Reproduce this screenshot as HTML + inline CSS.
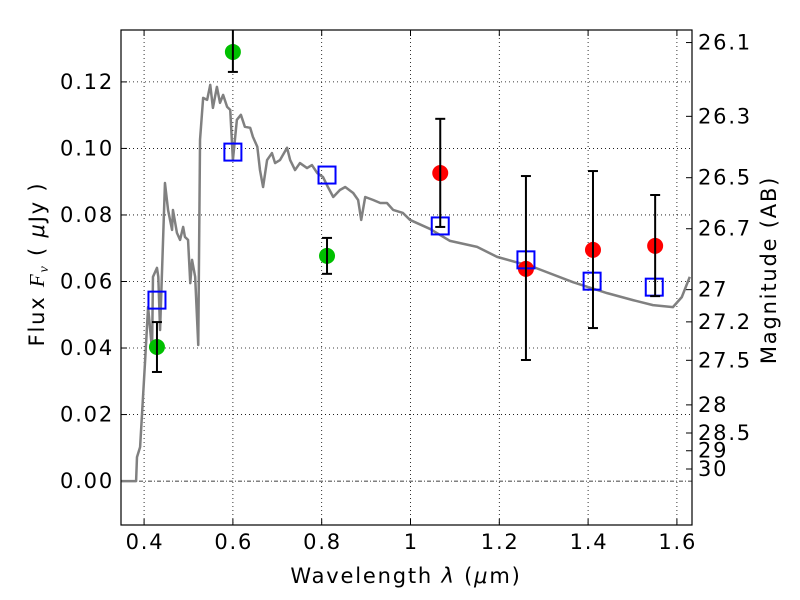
<!DOCTYPE html>
<html><head><meta charset="utf-8"><style>
html,body{margin:0;padding:0;background:#fff;}
svg{display:block;font-family:"DejaVu Sans","Liberation Sans",sans-serif;}
</style></head><body>
<svg id="chart" width="800" height="600"></svg>
<script>
const specWave=[0.346,0.382,0.384,0.391,0.402,0.409,0.418,0.420,0.429,0.432,0.436,0.447,0.454,0.463,0.465,0.474,0.481,0.488,0.492,0.499,0.504,0.508,0.515,0.522,0.526,0.533,0.542,0.549,0.555,0.564,0.571,0.578,0.587,0.594,0.600,0.609,0.618,0.627,0.639,0.645,0.655,0.661,0.668,0.677,0.688,0.695,0.706,0.722,0.729,0.740,0.751,0.767,0.778,0.790,0.803,0.814,0.826,0.841,0.853,0.871,0.882,0.889,0.898,0.916,0.932,0.947,0.961,0.983,0.999,1.044,1.089,1.150,1.195,1.276,1.366,1.443,1.501,1.546,1.591,1.611,1.629];
const specFlux=[0,0,0.0072,0.0102,0.0355,0.0523,0.0394,0.0614,0.0641,0.0614,0.0454,0.0896,0.0815,0.0755,0.0815,0.0746,0.0725,0.0764,0.0734,0.0725,0.0595,0.0665,0.0614,0.0409,0.1026,0.1152,0.1146,0.1191,0.1122,0.1185,0.1137,0.1161,0.1125,0.1116,0.0965,0.1086,0.1101,0.1065,0.1062,0.1035,0.1005,0.0935,0.0884,0.0965,0.0986,0.0956,0.0965,0.1002,0.0965,0.0935,0.0956,0.0941,0.0950,0.0926,0.0914,0.0884,0.0854,0.0875,0.0884,0.0866,0.0845,0.0785,0.0854,0.0845,0.0836,0.0836,0.0815,0.0806,0.0785,0.0758,0.0722,0.0704,0.0674,0.0644,0.0598,0.0565,0.0544,0.0529,0.0523,0.0553,0.0614];
const greenWave=[0.429,0.600,0.812];
const greenFlux=[0.0403,0.129,0.0677];
const greenHi=[0.0478,0.137,0.0731];
const greenLo=[0.0328,0.123,0.0623];
const redWave=[1.067,1.260,1.411,1.551];
const redFlux=[0.0926,0.0638,0.0695,0.0707];
const redHi=[0.1089,0.0917,0.0932,0.0860];
const redLo=[0.0764,0.0364,0.0460,0.0556];
const modelWave=[0.429,0.600,0.812,1.067,1.260,1.409,1.549];
const modelFlux=[0.0544,0.0989,0.0920,0.0767,0.0665,0.0601,0.0583];
const xTicks=[0.4,0.6,0.8,1,1.2,1.4,1.6];
const xTickLabels=["0.4","0.6","0.8","1","1.2","1.4","1.6"];
const yTicks=[0,0.02,0.04,0.06,0.08,0.10,0.12];
const yTickLabels=["0.00","0.02","0.04","0.06","0.08","0.10","0.12"];
const magTicks=[26.1,26.3,26.5,26.7,27,27.2,27.5,28,28.5,29,30];
const magTickLabels=["26.1","26.3","26.5","26.7","27","27.2","27.5","28","28.5","29","30"];

const L=121,R=692,T=30,B=525;
const xmin=0.348,xmax=1.634,ymin=-0.0132,ymax=0.1356;
const X=v=>L+(v-xmin)/(xmax-xmin)*(R-L);
const Y=v=>B-(v-ymin)/(ymax-ymin)*(B-T);
const NS="http://www.w3.org/2000/svg";
const svg=document.getElementById('chart');
function mk(tag,attrs,parent){const e=document.createElementNS(NS,tag);for(const k in attrs)e.setAttribute(k,attrs[k]);(parent||svg).appendChild(e);return e;}
const FS=21, LS=1.8;

const clip=mk('clipPath',{id:'pc'});mk('rect',{x:L,y:T,width:R-L,height:B-T},clip);

xTicks.forEach((v,i)=>{
 const g=mk('line',{x1:X(v),x2:X(v),y1:T,y2:B,stroke:'#000','stroke-width':0.8,'stroke-dasharray':'1,3'});
 
 
 const t=mk('line',{x1:X(v),x2:X(v),y1:B,y2:B-6,stroke:'#000'});
 
 
 mk('line',{x1:X(v),x2:X(v),y1:T,y2:T+6,stroke:'#000'});
 const l=mk('text',{x:X(v)+LS/2,y:B+24,'text-anchor':'middle','font-size':FS,'letter-spacing':LS});
 l.textContent=xTickLabels[i];
 
 
});
yTicks.forEach((v,i)=>{
 const g=mk('line',{x1:L,x2:R,y1:Y(v),y2:Y(v),stroke:'#000','stroke-width':0.8,'stroke-dasharray':v===0?'4,2,1,2':'1,3'});
 
 
 mk('line',{x1:L,x2:L+6,y1:Y(v),y2:Y(v),stroke:'#000'});
 const l=mk('text',{x:L-7,y:Y(v)+7,'text-anchor':'end','font-size':FS,'letter-spacing':LS});
 l.textContent=yTickLabels[i];
 
 
});
magTicks.forEach((m,i)=>{
 const f=Math.pow(10,(23.9-m)/2.5);
 const t=mk('line',{x1:R-6,x2:R,y1:Y(f),y2:Y(f),stroke:'#000'});
 
 
 const l=mk('text',{x:R+6,y:Y(f)+7,'font-size':FS,'letter-spacing':LS});
 l.textContent=magTickLabels[i];
 
 
});

const pg=mk('g',{'clip-path':'url(#pc)'});
const sp=mk('polyline',{points:specWave.map((w,i)=>X(w)+','+Y(specFlux[i])).join(' '),fill:'none',stroke:'#808080','stroke-width':2.5,'stroke-linejoin':'round'},pg);



function errs(w,hi,lo,name){w.forEach((v,i)=>{
 const x=X(v);
 const e=mk('g',{stroke:'#000','stroke-width':2},pg);
 
 
 mk('line',{x1:x,x2:x,y1:Y(hi[i]),y2:Y(lo[i])},e);
 mk('line',{x1:x-5,x2:x+5,y1:Y(hi[i]),y2:Y(hi[i])},e);
 mk('line',{x1:x-5,x2:x+5,y1:Y(lo[i]),y2:Y(lo[i])},e);
});}
greenWave.forEach((w,i)=>{
 const c=mk('circle',{cx:X(w),cy:Y(greenFlux[i]),r:8,fill:'#00c000'},pg);
 
 
});
redWave.forEach((w,i)=>{
 const c=mk('circle',{cx:X(w),cy:Y(redFlux[i]),r:8,fill:'#ff0000'},pg);
 
 
});
modelWave.forEach((w,i)=>{
 const s=mk('rect',{x:X(w)-8.5,y:Y(modelFlux[i])-8.5,width:17,height:17,fill:'none',stroke:'#0000ff','stroke-width':2},pg);
 
 
});
errs(greenWave,greenHi,greenLo,'optical-error-bar');
errs(redWave,redHi,redLo,'ir-error-bar');

const fr=mk('rect',{x:L,y:T,width:R-L,height:B-T,fill:'none',stroke:'#000','stroke-width':1.2});



const xl=mk('text',{x:406,y:583,'text-anchor':'middle','font-size':FS,'letter-spacing':LS,'xml:space':'preserve'});
xl.innerHTML='Wavelength  <tspan font-style="italic">λ</tspan> (<tspan font-style="italic">μ</tspan>m)';


const yl=mk('text',{x:0,y:0,'text-anchor':'middle','font-size':FS,'letter-spacing':LS,'xml:space':'preserve',transform:'translate(44,264) rotate(-90)'});
yl.innerHTML='Flux  <tspan font-style="italic" font-family="Liberation Serif,serif">F<tspan font-size="14" dy="4">ν</tspan></tspan><tspan dy="-4">  (  </tspan><tspan font-style="italic">μ</tspan>Jy )';


const ml=mk('text',{x:0,y:0,'text-anchor':'middle','font-size':FS,'letter-spacing':LS,transform:'translate(776,270) rotate(-90)'});
ml.textContent='Magnitude (AB)';


</script>
</body></html>
